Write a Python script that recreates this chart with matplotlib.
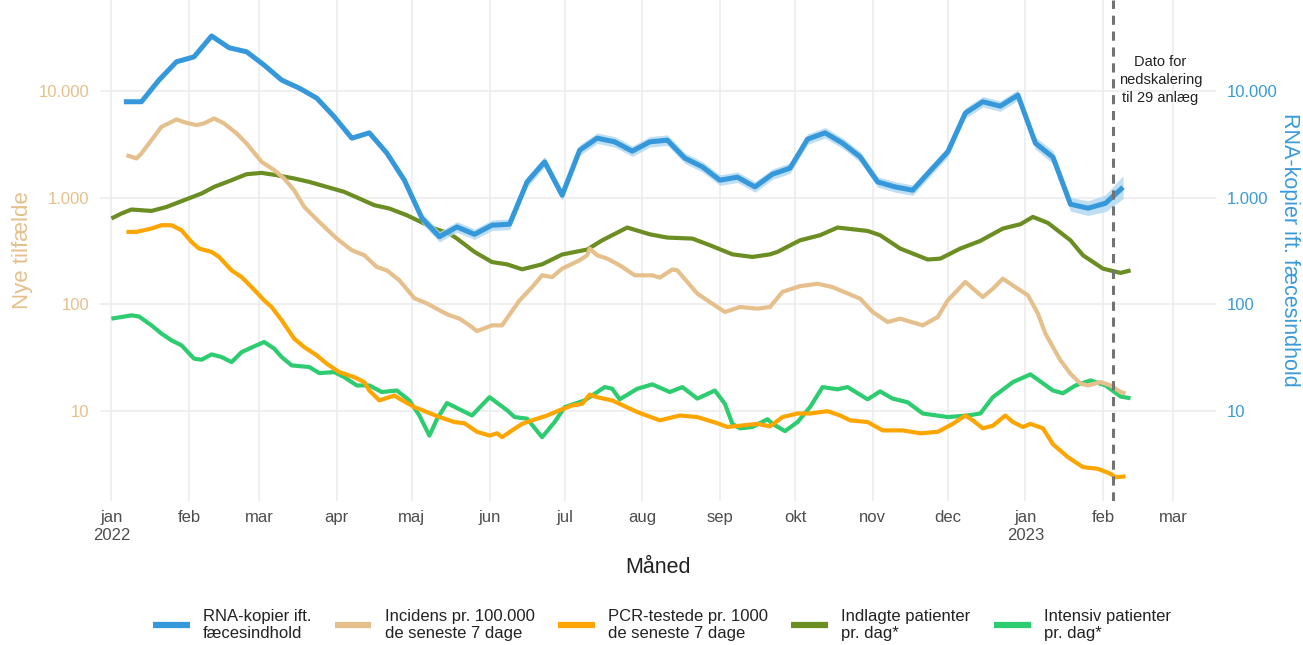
import numpy as np
import pandas as pd
import matplotlib
matplotlib.use("Agg")
import matplotlib.pyplot as plt
from matplotlib.ticker import FixedLocator, FuncFormatter, NullLocator

plt.rcParams['font.family'] = ['Liberation Sans', 'DejaVu Sans']

# Datoer som dage efter 1. januar 2022
start = np.datetime64('2022-01-01')

# RNA-kopier (ugentlige målinger) med usikkerhedsfaktor
rna_datoer = pd.date_range('2022-01-06', periods=58, freq='7D')
rna = [7900, 7900, 12600, 18700, 20800, 32600, 25300, 23200, 17400, 12600,
       10600, 8540, 5710, 3600, 4040, 2610, 1455, 641, 430, 531,
       453, 551, 563, 1402, 2160, 1052, 2780, 3600, 3325, 2720,
       3325, 3450, 2340, 1940, 1455, 1552, 1259, 1656, 1885, 3525,
       4040, 3233, 2406, 1402, 1259, 1172, 1778, 2680, 6180, 7900,
       7190, 9110, 3233, 2390, 867, 795, 885, 1251]
rna_ci = [1.04] * 17 + [1.12] * 35 + [1.14, 1.15, 1.16, 1.17, 1.2, 1.28]

# Incidens pr. 100.000
inc_dage = [6, 10, 12, 16, 20, 26, 30, 34, 37, 41, 45, 50, 54, 60, 65, 69, 73, 77, 83, 90,
            96, 101, 106, 110, 115, 121, 126, 131, 135, 139, 143, 146, 152, 156, 163, 168, 172, 176, 180, 187,
            190, 191, 194, 198, 203, 209, 216, 219, 224, 226, 230, 234, 239, 245, 251, 258, 263, 268, 275, 282,
            288, 299, 304, 310, 315, 324, 330, 334, 341, 348, 352, 356, 361, 366, 370, 373, 376, 379, 383, 387,
            390, 395, 399, 403, 405]
inc = [2495, 2325, 2590, 3450, 4600, 5390, 5010, 4770, 4950, 5510, 4950, 3990, 3210, 2160, 1810, 1510, 1170, 817, 591, 413,
       321, 288, 224, 208, 168, 114, 102, 88, 79, 73.5, 63.6, 56.2, 63.6, 63.6, 109, 145, 187, 180, 216, 259,
       288, 333, 288, 268, 232, 187, 187, 178, 212, 208, 162, 126, 105, 84.8, 94.4, 91.2, 94.4, 131, 148, 156,
       145, 113, 84.8, 68.3, 73.5, 63.6, 76.1, 109, 162, 117, 140, 174, 145, 121.5, 81.9, 53.2, 39.8, 29.9, 22.4, 18.1,
       17.4, 18.7, 17.4, 15.1, 14.6]

# PCR-testede pr. 1000
pcr_dage = [6, 10, 16, 20, 24, 28, 32, 35, 40, 43, 48, 52, 56, 61, 64, 68, 73, 77, 82, 86,
            91, 97, 101, 103, 107, 113, 115, 121, 126, 131, 137, 141, 146, 151, 154, 156, 160, 164, 168, 174,
            179, 184, 188, 191, 194, 200, 210, 219, 227, 234, 242, 246, 251, 258, 263, 268, 274, 279, 286, 291,
            295, 302, 308, 316, 323, 330, 336, 341, 344, 348, 352, 357, 360, 364, 367, 372, 376, 382, 388, 394,
            399, 401, 405]
pcr = [477, 477, 513, 551, 551, 494, 384, 333, 310, 278, 208, 180, 145, 109, 94.4, 70.9, 47.7, 39.8, 33.3, 27.8,
       23.2, 20.8, 18.7, 15.6, 12.6, 14.0, 13.1, 10.9, 9.8, 8.8, 7.9, 7.7, 6.4, 5.9, 6.2, 5.7, 6.6, 7.6, 8.2, 9.1,
       10.2, 11.3, 11.7, 14.3, 13.5, 12.6, 9.8, 8.2, 9.1, 8.8, 7.7, 7.1, 7.3, 7.6, 7.2, 8.8, 9.5, 9.5, 10.0, 9.1,
       8.2, 7.9, 6.6, 6.6, 6.2, 6.4, 7.6, 9.1, 8.2, 6.9, 7.3, 9.1, 7.9, 7.1, 7.6, 6.9, 4.9, 3.7, 2.99, 2.88,
       2.59, 2.4, 2.45]

# Indlagte patienter pr. dag
indl_dage = [0, 4, 8, 16, 22, 29, 36, 41, 48, 54, 60, 66, 73, 79, 86, 93, 99, 105, 111, 118,
             123, 129, 135, 138, 145, 152, 158, 164, 172, 180, 190, 196, 206, 215, 222, 232, 239, 248, 256, 263,
             266, 275, 283, 290, 302, 307, 315, 326, 331, 339, 347, 356, 363, 368, 374, 383, 388, 396, 403, 407]
indl = [637, 709, 773, 750, 817, 945, 1092, 1259, 1455, 1656, 1703, 1620, 1510, 1402, 1259, 1130, 980, 848, 790, 683,
        600, 513, 460, 413, 310, 249, 237, 213, 237, 293, 326, 398, 524, 453, 422, 413, 358, 294, 278, 294,
        310, 398, 444, 524, 487, 444, 333, 263, 268, 333, 393, 513, 563, 659, 579, 398, 288, 216, 197, 208]

# Intensiv patienter pr. dag
int_dage = [0, 4, 8, 11, 16, 20, 24, 28, 33, 36, 40, 44, 48, 52, 57, 61, 65, 68, 72, 79,
            83, 89, 93, 98, 103, 108, 114, 119, 123, 127, 130, 134, 144, 151, 158, 161, 166, 172, 177, 181,
            189, 197, 200, 203, 210, 216, 223, 228, 234, 241, 245, 248, 251, 256, 262, 264, 269, 274, 279, 284,
            290, 294, 302, 307, 312, 318, 324, 334, 342, 347, 352, 360, 367, 376, 380, 385, 391, 397, 403, 407]
intensiv = [73.5, 76.1, 78.9, 77, 63.6, 53.2, 46, 41.3, 31, 30.3, 34, 32.1, 28.8, 35.7, 40.4, 44.4, 38.5, 32.1, 26.8, 25.9,
            22.7, 23.2, 20.8, 17.4, 17.4, 15.1, 15.6, 12.6, 9.1, 5.9, 8.4, 11.9, 9.1, 13.5, 10.2, 8.8, 8.5, 5.7, 7.9, 10.9,
            12.6, 16.8, 16.2, 12.9, 16.2, 17.8, 15.1, 16.8, 13.1, 15.6, 11.7, 7.6, 6.9, 7.1, 8.4, 7.6, 6.5, 7.9, 10.9, 16.8,
            16.0, 16.8, 12.9, 15.3, 13.1, 12.1, 9.5, 8.8, 9.1, 9.5, 13.5, 18.7, 22.1, 15.6, 14.7, 17.4, 19.4, 17.4, 13.7, 13.2]

maaneder = ['jan\n2022', 'feb', 'mar', 'apr', 'maj', 'jun', 'jul', 'aug', 'sep', 'okt', 'nov', 'dec',
            'jan\n2023', 'feb', 'mar']
nedskalering = '2023-02-05'

farver = {'rna': '#3498DB', 'inc': '#E5C08C', 'pcr': '#FFA500', 'indl': '#6B8E23', 'int': '#2ECC71'}


def til_dato(dage):
    return start + np.array(dage).astype('timedelta64[D]')


fig = plt.figure(figsize=(13.03, 6.45), dpi=100)
ax = fig.add_axes([0.077, 0.224, 0.856, 0.776])
ax2 = ax.twinx()

l_int, = ax.plot(til_dato(int_dage), intensiv, color=farver['int'], lw=3.0, solid_capstyle='butt')
l_indl, = ax.plot(til_dato(indl_dage), indl, color=farver['indl'], lw=3.0, solid_capstyle='butt')
l_pcr, = ax.plot(til_dato(pcr_dage), pcr, color=farver['pcr'], lw=3.0, solid_capstyle='butt')
l_inc, = ax.plot(til_dato(inc_dage), inc, color=farver['inc'], lw=3.0, solid_capstyle='butt')

rna_arr = np.array(rna, dtype=float)
ci_arr = np.array(rna_ci)
ax2.fill_between(rna_datoer, rna_arr / ci_arr, rna_arr * ci_arr, color='#AED6F1', lw=0, alpha=0.8)
l_rna, = ax2.plot(rna_datoer, rna, color=farver['rna'], lw=3.6, solid_capstyle='butt')

ned = np.datetime64(nedskalering)
ax2.axvline(ned, color='#737373', lw=2.2, ls=(0, (3, 2.2)), zorder=5)
ax2.text(ned + np.timedelta64(19, 'D'), 12600, 'Dato for\nnedskalering\ntil 29 anlæg',
         ha='center', va='center', fontsize=10.5, color='#222222', linespacing=1.35)

ylim = (1.455, 70850)
xlim = (start - np.timedelta64(106, 'h'), start + np.timedelta64(441, 'D'))
for a in (ax, ax2):
    a.set_yscale('log')
    a.set_ylim(ylim)
    a.set_xlim(xlim)
    a.yaxis.set_major_locator(FixedLocator([10, 100, 1000, 10000]))
    a.yaxis.set_minor_locator(NullLocator())
    a.yaxis.set_major_formatter(FuncFormatter(lambda v, p: f"{int(round(v)):,}".replace(",", ".")))
    for s in a.spines.values():
        s.set_visible(False)
    a.tick_params(length=0)

ax.set_facecolor('white')
ax.grid(True, color='#EBEBEB', lw=1.1)
ax.set_axisbelow(True)

ticks = pd.date_range('2022-01-01', '2023-03-01', freq='MS')
ax.xaxis.set_major_locator(FixedLocator(matplotlib.dates.date2num(ticks)))
ax.xaxis.set_minor_locator(NullLocator())
ax.set_xticklabels(maaneder)
ax.tick_params(axis='x', labelsize=12, labelcolor='#4D4D4D', pad=7)
ax.tick_params(axis='y', labelsize=12, labelcolor='#E5C08C', pad=8)
ax2.tick_params(axis='y', labelsize=12, labelcolor='#3A9AD9', pad=8)

ax.set_xlabel('Måned', fontsize=15.5, color='#222222', labelpad=10)
ax.set_ylabel('Nye tilfælde', fontsize=16, color='#E5C08C', labelpad=4)
ax2.set_ylabel('RNA-kopier ift. fæcesindhold', fontsize=15.5, color='#3A9AD9', rotation=270,
               va='bottom', labelpad=1)

handles = [l_rna, l_inc, l_pcr, l_indl, l_int]
labels = ['RNA-kopier ift.\nfæcesindhold', 'Incidens pr. 100.000\nde seneste 7 dage',
          'PCR-testede pr. 1000\nde seneste 7 dage', 'Indlagte patienter\npr. dag*',
          'Intensiv patienter\npr. dag*']
leg = fig.legend(handles, labels, loc='center', bbox_to_anchor=(0.508, 0.031), ncol=5, frameon=False,
                 fontsize=12, handlelength=2.2, handletextpad=0.8, columnspacing=1.4)
for h in leg.legend_handles:
    h.set_linewidth(4.5)
for t in leg.get_texts():
    t.set_color('#222222')

fig.savefig('out.png', dpi=100)
